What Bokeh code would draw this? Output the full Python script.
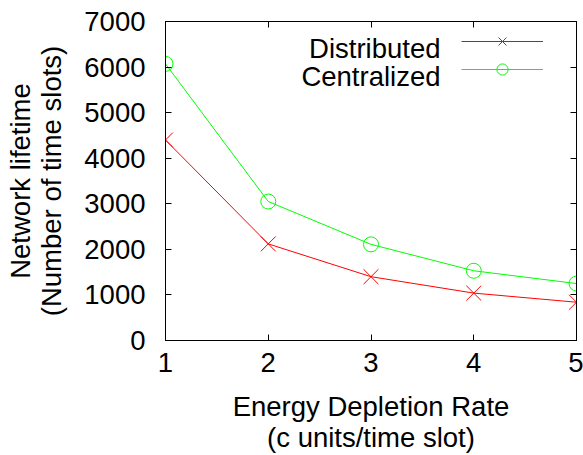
from bokeh.plotting import figure
from bokeh.models import Range1d, FixedTicker, LinearAxis, Legend, LegendItem, Label
from bokeh.embed import file_html
from bokeh.resources import INLINE

rate = [1, 2, 3, 4, 5]
distributed = [4400, 2120, 1400, 1040, 840]
centralized = [6070, 3050, 2110, 1530, 1250]
x_ticks = [1, 2, 3, 4, 5]
y_ticks = [0, 1000, 2000, 3000, 4000, 5000, 6000, 7000]
series_names = ["Distributed", "Centralized"]

FONT = "Liberation Sans"
FS = "27.5px"
RED = "#ff0000"
GREEN = "#00ff00"

p = figure(width=583, height=455, output_backend="svg", toolbar_location=None,
           x_range=Range1d(1, 5), y_range=Range1d(0, 7000),
           min_border_left=165, min_border_right=7, min_border_top=21, min_border_bottom=114)
p.xgrid.visible = False
p.ygrid.visible = False
p.outline_line_color = "black"
p.outline_line_width = 1
p.background_fill_color = "white"
p.border_fill_color = "white"

for ax, ticks in ((p.xaxis[0], x_ticks), (p.yaxis[0], y_ticks)):
    ax.ticker = FixedTicker(ticks=ticks)
    ax.major_tick_in = 6
    ax.major_tick_out = 0
    ax.minor_tick_line_color = None
    ax.axis_line_color = "black"
    ax.major_tick_line_color = "black"
    ax.major_label_text_font = FONT
    ax.major_label_text_font_size = FS
    ax.major_label_text_color = "black"
    ax.axis_label_text_font = FONT
    ax.axis_label_text_font_size = FS
    ax.axis_label_text_font_style = "normal"
    ax.axis_label_text_color = "black"
    ax.axis_label_text_line_height = 1.0

p.xaxis[0].axis_label = "Energy Depletion Rate\n(c units/time slot)"
p.yaxis[0].axis_label = "Network lifetime\n(Number of time slots)"
p.xaxis[0].major_label_standoff = 12
p.yaxis[0].major_label_standoff = 20
p.xaxis[0].axis_label_standoff = 16
p.yaxis[0].axis_label_standoff = 14

# mirrored ticks (no labels)
top = LinearAxis(ticker=FixedTicker(ticks=x_ticks), major_tick_in=6, major_tick_out=0,
                 minor_tick_line_color=None, axis_line_color="black", major_label_standoff=0,
                 major_label_overrides={t: "" for t in x_ticks})
right = LinearAxis(ticker=FixedTicker(ticks=y_ticks), major_tick_in=6, major_tick_out=0,
                   minor_tick_line_color=None, axis_line_color="black", major_label_standoff=0,
                   major_label_overrides={t: "" for t in y_ticks})
p.add_layout(top, "above")
p.add_layout(right, "right")

m1 = p.scatter(rate, distributed, marker="x", size=21, line_color=RED, fill_color=None,
               line_width=1)
l1 = p.line(rate, distributed, line_color=RED, line_width=1)
m2 = p.scatter(rate, centralized, marker="circle", size=15, line_color=GREEN,
               fill_color=None, line_width=1)
l2 = p.line(rate, centralized, line_color=GREEN, line_width=1)

legend = Legend(items=[LegendItem(label="", renderers=[l1, m1]),
                       LegendItem(label="", renderers=[l2, m2])],
                location=(296, 257), glyph_width=82, glyph_height=28, label_height=28,
                label_width=0, label_standoff=0, spacing=0, padding=0, margin=0,
                border_line_color=None, background_fill_color=None,
                inactive_fill_color=None)
p.add_layout(legend, "center")

for i, name in enumerate(series_names):
    p.add_layout(Label(x=275, y=292 - 27.7 * i, x_units="screen", y_units="screen", text=name,
                       text_align="right", text_baseline="alphabetic", text_font=FONT,
                       text_font_size=FS, text_color="black"))

open("out.html", "w").write(file_html(p, INLINE))
